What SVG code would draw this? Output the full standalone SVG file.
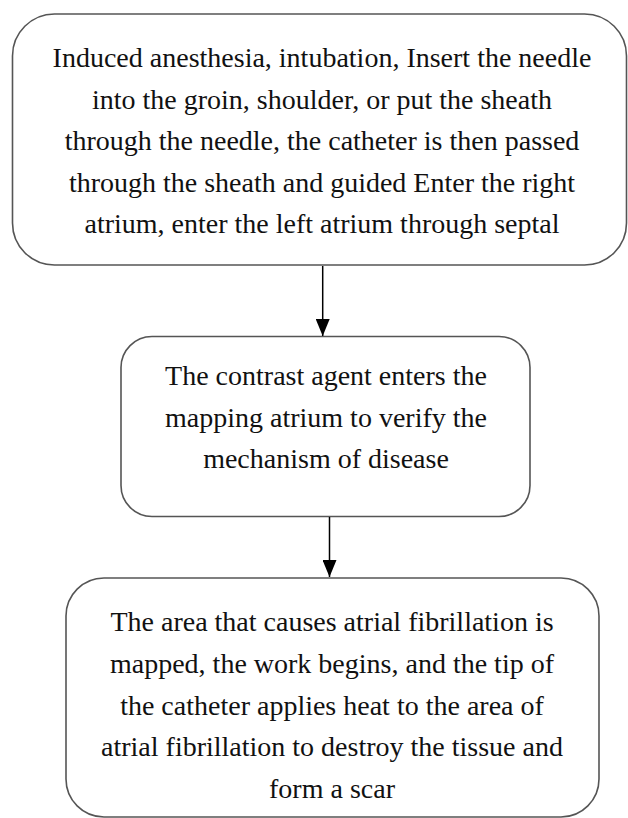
<svg xmlns="http://www.w3.org/2000/svg" width="628" height="818" viewBox="0 0 628 818">
<style>
.box{fill:#fff;stroke:#555;stroke-width:1.6}
.t{font-family:"Liberation Serif","Times New Roman",serif;font-size:28px;fill:#111;text-anchor:middle}
.c{stroke:#000;stroke-width:1.5;fill:none}
</style>
<defs>
<marker id="ah" markerUnits="userSpaceOnUse" markerWidth="17" markerHeight="14" refX="17" refY="7" orient="auto" viewBox="0 0 17 14">
<path d="M0,0 L17,7 L0,14 Z" fill="#000"/>
</marker>
</defs>
<rect width="628" height="818" fill="#fff"/>
<g id="node1">
<rect class="box" x="12.5" y="14" width="614" height="251" rx="42" ry="42"/>
<text class="t" x="322" y="67">Induced anesthesia, intubation, Insert the needle</text>
<text class="t" x="322" y="108.5">into the groin, shoulder, or put the sheath</text>
<text class="t" x="322" y="150">through the needle, the catheter is then passed</text>
<text class="t" x="322" y="191.5">through the sheath and guided Enter the right</text>
<text class="t" x="322" y="233">atrium, enter the left atrium through septal</text>
</g>
<g id="node2">
<rect class="box" x="121" y="336.5" width="409" height="180" rx="31" ry="31"/>
<text class="t" x="326" y="385">The contrast agent enters the</text>
<text class="t" x="326" y="427">mapping atrium to verify the</text>
<text class="t" x="326" y="468">mechanism of disease</text>
</g>
<g id="node3">
<rect class="box" x="66" y="578" width="533" height="239" rx="38" ry="38"/>
<text class="t" x="332" y="631">The area that causes atrial fibrillation is</text>
<text class="t" x="332" y="672.5">mapped, the work begins, and the tip of</text>
<text class="t" x="332" y="714.5">the catheter applies heat to the area of</text>
<text class="t" x="332" y="756">atrial fibrillation to destroy the tissue and</text>
<text class="t" x="332" y="798">form a scar</text>
</g>
<g id="connectors">
<line class="c" x1="322.7" y1="266" x2="322.7" y2="336" marker-end="url(#ah)"/>
<line class="c" x1="329.5" y1="517" x2="329.5" y2="577" marker-end="url(#ah)"/>
</g>
</svg>
